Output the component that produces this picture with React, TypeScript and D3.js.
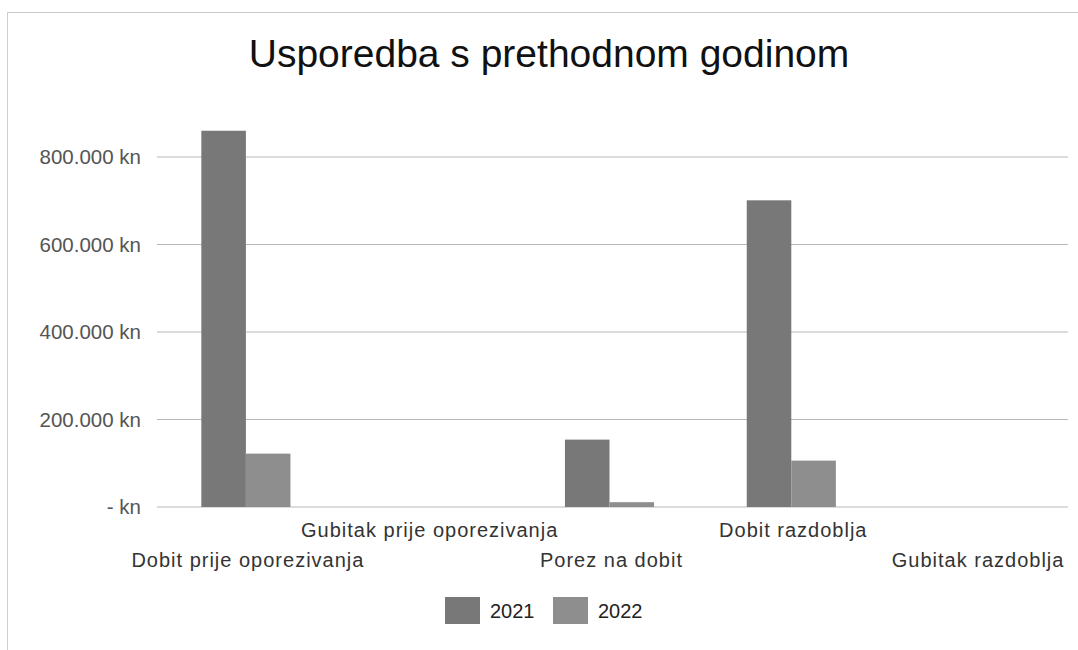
import React from "react";
import * as d3 from "d3";

const categories = [
  "Dobit prije oporezivanja",
  "Gubitak prije oporezivanja",
  "Porez na dobit",
  "Dobit razdoblja",
  "Gubitak razdoblja",
];
const years = ["2021", "2022"];
const values2021 = [860000, 0, 154000, 701000, 0];
const values2022 = [122000, 0, 11000, 106000, 0];
const yTicks = [0, 200000, 400000, 600000, 800000];
const yTickLabels = ["- kn", "200.000 kn", "400.000 kn", "600.000 kn", "800.000 kn"];

const W = 1078;
const H = 650;
const colors = { "2021": "#787878", "2022": "#8e8e8e" };

const App = () => {
  const x = d3.scaleBand().domain(categories).range([155, 1064]).paddingInner(0);
  const xYear = d3
    .scaleBand()
    .domain(years)
    .range([0, x.bandwidth()])
    .paddingInner(0)
    .paddingOuter(1.04);
  const y = d3.scaleLinear().domain([0, 800000]).range([507, 157]);

  const series = [
    { year: "2021", values: values2021 },
    { year: "2022", values: values2022 },
  ];

  return (
    <svg
      width={W}
      height={H}
      style={{ position: "absolute", left: 0, top: 0, background: "#fff" }}
    >
      {/* scan border */}
      <line x1={7} x2={W} y1={12.5} y2={12.5} stroke="#c8c8c8" />
      <line x1={7.5} x2={7.5} y1={12} y2={H} stroke="#cfcfcf" />

      <text
        x={549}
        y={67}
        textAnchor="middle"
        fontFamily="Liberation Sans, Arial, sans-serif"
        fontSize={39}
        fill="#111"
      >
        Usporedba s prethodnom godinom
      </text>

      {/* gridlines */}
      {yTicks.map((t) => (
        <line
          key={t}
          x1={157}
          x2={1068}
          y1={y(t)}
          y2={y(t)}
          stroke="#b8b8b8"
          strokeWidth={1}
        />
      ))}

      {/* y labels */}
      {yTicks.map((t, i) => (
        <text
          key={t}
          x={141}
          y={y(t)}
          dy="0.35em"
          textAnchor="end"
          fontFamily="Liberation Sans, Arial, sans-serif"
          fontSize={20.5}
          fill="#555"
        >
          {yTickLabels[i]}
        </text>
      ))}

      {/* bars */}
      {series.map((s) =>
        s.values.map((v, i) =>
          v > 0 ? (
            <rect
              key={s.year + i}
              x={(x(categories[i]) as number) + (xYear(s.year) as number)}
              y={y(v)}
              width={xYear.bandwidth()}
              height={y(0) - y(v)}
              fill={colors[s.year]}
            />
          ) : null
        )
      )}

      {/* category labels, staggered */}
      {categories.map((c, i) => (
        <text
          key={c}
          x={(x(c) as number) + x.bandwidth() / 2 + (i === 4 ? 5 : 2)}
          y={i % 2 === 0 ? 567 : 537}
          textAnchor="middle"
          fontFamily="Liberation Sans, Arial, sans-serif"
          fontSize={20}
          letterSpacing={1}
          fill="#333"
        >
          {c}
        </text>
      ))}

      {/* legend */}
      {years.map((yr, i) => (
        <g key={yr} transform={`translate(${445 + i * 108},597)`}>
          <rect width={35} height={27} fill={colors[yr]} />
          <text
            x={45}
            y={21}
            fontFamily="Liberation Sans, Arial, sans-serif"
            fontSize={20}
            fill="#222"
          >
            {yr}
          </text>
        </g>
      ))}
    </svg>
  );
};

export default App;
